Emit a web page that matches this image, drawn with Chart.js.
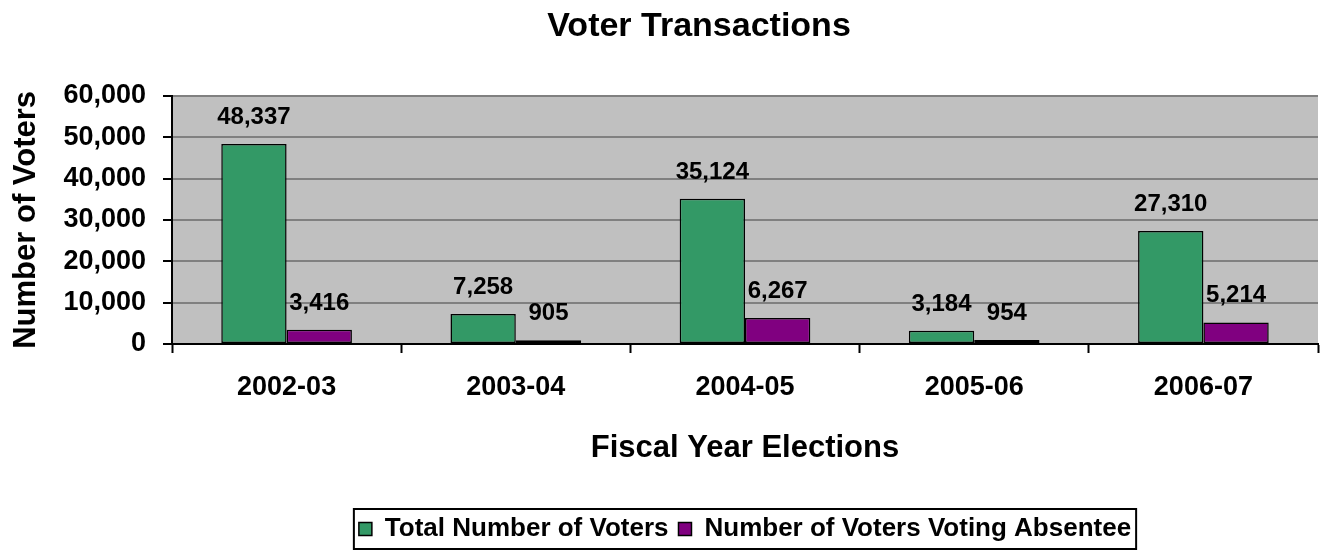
<!DOCTYPE html>
<html>
<head>
<meta charset="utf-8">
<title>Voter Transactions</title>
<script src="https://cdn.jsdelivr.net/npm/chart.js@4"></script>
<style>
  html, body { margin: 0; padding: 0; background: #ffffff; }
  #chart { display: block; }
</style>
</head>
<body>
<canvas id="chart" width="1320" height="552"></canvas>
<script>
// Chart data
const years = ['2002-03', '2003-04', '2004-05', '2005-06', '2006-07'];
const totalVoters = [48337, 7258, 35124, 3184, 27310];
const absenteeVoters = [3416, 905, 6267, 954, 5214];
const yTicks = [0, 10000, 20000, 30000, 40000, 50000, 60000];

const FONT = '"Liberation Sans", Arial, sans-serif';

// Format numbers with thousand separators
function fmt(n) {
  return n.toString().replace(/\B(?=(\d{3})+(?!\d))/g, ',');
}

// Gray plot background
const plotBackground = {
  id: 'plotBackground',
  beforeDraw(chart) {
    const { ctx, chartArea: a } = chart;
    ctx.save();
    ctx.fillStyle = '#C0C0C0';
    ctx.fillRect(a.left, a.top, a.right - a.left, a.bottom - a.top);
    ctx.restore();
  }
};

// Shift the chart title a little to the right, like the original
const titleShift = {
  id: 'titleShift',
  afterLayout(chart) {
    if (chart.titleBlock) chart.titleBlock.left = 80;
  }
};

// Value labels above bars
const valueLabels = {
  id: 'valueLabels',
  afterDatasetsDraw(chart) {
    const ctx = chart.ctx;
    ctx.save();
    ctx.font = 'bold 24px ' + FONT;
    ctx.fillStyle = '#000000';
    ctx.textAlign = 'center';
    ctx.textBaseline = 'alphabetic';
    chart.data.datasets.forEach((ds, i) => {
      chart.getDatasetMeta(i).data.forEach((bar, j) => {
        ctx.fillText(fmt(ds.data[j]), bar.x, bar.y - 20);
      });
    });
    ctx.restore();
  }
};

// Border round the legend
const legendBorder = {
  id: 'legendBorder',
  afterDraw(chart) {
    const boxes = chart.legend.legendHitBoxes;
    if (!boxes || !boxes.length) return;
    const left = Math.min(...boxes.map(b => b.left)) - 5;
    const right = Math.max(...boxes.map(b => b.left + b.width)) + 5;
    const mid = (boxes[0].top + boxes[0].height / 2);
    const ctx = chart.ctx;
    ctx.save();
    ctx.strokeStyle = '#000000';
    ctx.lineWidth = 2;
    ctx.strokeRect(left, mid - 20, right - left, 40);
    ctx.restore();
  }
};

new Chart(document.getElementById('chart'), {
  type: 'bar',
  data: {
    labels: years,
    datasets: [
      {
        label: 'Total Number of Voters',
        data: totalVoters,
        backgroundColor: '#339966',
        borderColor: '#000000',
        borderWidth: 1.5,
        borderSkipped: false,
        categoryPercentage: 0.57,
        barPercentage: 1.0
      },
      {
        label: 'Number of Voters Voting Absentee',
        data: absenteeVoters,
        backgroundColor: '#800080',
        borderColor: '#000000',
        borderWidth: 1.5,
        borderSkipped: false,
        categoryPercentage: 0.57,
        barPercentage: 1.0
      }
    ]
  },
  options: {
    responsive: false,
    animation: false,
    layout: {
      padding: { left: 0, right: 2, top: 0, bottom: 0 }
    },
    plugins: {
      title: {
        display: true,
        text: 'Voter Transactions',
        color: '#000000',
        font: { family: FONT, size: 34, weight: 'bold' },
        padding: { top: 6, bottom: 49 }
      },
      legend: {
        position: 'bottom',
        fullSize: false,
        labels: {
          color: '#000000',
          font: { family: FONT, size: 26, weight: 'bold' },
          boxWidth: 13,
          boxHeight: 13,
          padding: 10
        }
      },
      tooltip: { enabled: false }
    },
    scales: {
      x: {
        afterFit(scale) { scale.height = 162; },
        grid: {
          offset: true,
          drawOnChartArea: false,
          tickLength: 9,
          tickColor: '#000000',
          tickWidth: 2
        },
        border: { color: '#000000', width: 2 },
        ticks: {
          color: '#000000',
          padding: 18,
          font: { family: FONT, size: 27, weight: 'bold' }
        },
        title: {
          display: true,
          text: 'Fiscal Year Elections',
          color: '#000000',
          font: { family: FONT, size: 31, weight: 'bold' },
          padding: { top: 10, bottom: 39 }
        }
      },
      y: {
        min: 0,
        max: 60000,
        afterFit(scale) { scale.width = 172; },
        afterBuildTicks(scale) {
          scale.ticks = yTicks.map(v => ({ value: v }));
        },
        grid: {
          color: '#808080',
          lineWidth: 2,
          tickLength: 9,
          tickColor: '#000000'
        },
        border: { color: '#000000', width: 2 },
        ticks: {
          color: '#000000',
          padding: 17,
          font: { family: FONT, size: 27, weight: 'bold' },
          callback: v => fmt(v)
        },
        title: {
          display: true,
          text: 'Number of Voters',
          color: '#000000',
          font: { family: FONT, size: 31, weight: 'bold' },
          padding: { top: 8, bottom: 4 }
        }
      }
    }
  },
  plugins: [plotBackground, titleShift, valueLabels, legendBorder]
});
</script>
</body>
</html>
